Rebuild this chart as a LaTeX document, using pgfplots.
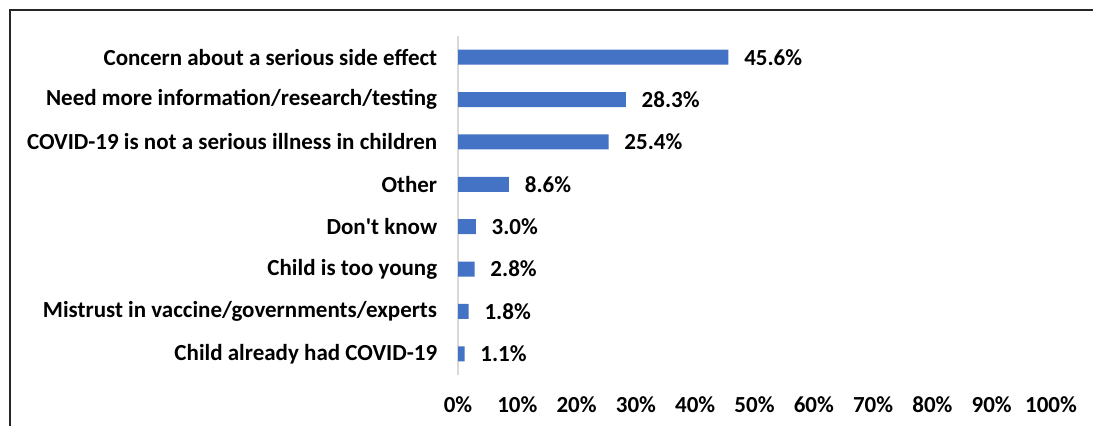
\documentclass[border=0pt]{standalone}
\usepackage{pgfplots}
\pgfplotsset{compat=1.18}
\usepackage{fontspec}
\setmainfont{Carlito}
\definecolor{barblue}{HTML}{4472C4}
\definecolor{axisgray}{HTML}{D9D9D9}
\definecolor{framegray}{HTML}{262626}
\newcommand\chartfont{\fontsize{23bp}{27bp}\selectfont\bfseries}

\begin{document}
\begin{tikzpicture}
\chartfont
\begin{axis}[
  at={(458bp,51bp)}, anchor=south west,
  scale only axis,
  width=593bp, height=339bp,
  xbar, bar width=15bp,
  xmin=0, xmax=100,
  ymin=-0.5, ymax=7.5,
  axis y line*=left,
  separate axis lines,
  x axis line style={draw=none},
  y axis line style={draw=axisgray, line width=1.2bp, -},
  xtick={0,10,...,100},
  xticklabels={0\%,10\%,20\%,30\%,40\%,50\%,60\%,70\%,80\%,90\%,100\%},
  ytick={0,...,7},
  yticklabels={Child already had COVID-19,
               Mistrust in vaccine/governments/experts,
               Child is too young,
               Don\textquotesingle t know,
               Other,
               COVID-19 is not a serious illness in children,
               Need more information/research/testing,
               Concern about a serious side effect},
  major tick length=0pt,
  xticklabel style={font=\chartfont, yshift=-14bp},
  yticklabel style={font=\chartfont, xshift=-13bp},
  point meta=x,
  nodes near coords={\pgfmathprintnumber[fixed,fixed zerofill,precision=1,assume math mode=true]{\pgfplotspointmeta}\%},
  nodes near coords style={font=\chartfont, anchor=west, xshift=8bp},
]
\addplot[fill=barblue, draw=none] coordinates {
  (1.1,0) (1.8,1) (2.8,2) (3.0,3) (8.6,4) (25.4,5) (28.3,6) (45.6,7)
};
\end{axis}
\draw[framegray, line width=1.5bp] (10bp,-2bp) -- (10bp,416bp) -- (1095bp,416bp);
\pgfresetboundingbox
\path (0,0) rectangle (1093bp,426bp);
\end{tikzpicture}
\end{document}
